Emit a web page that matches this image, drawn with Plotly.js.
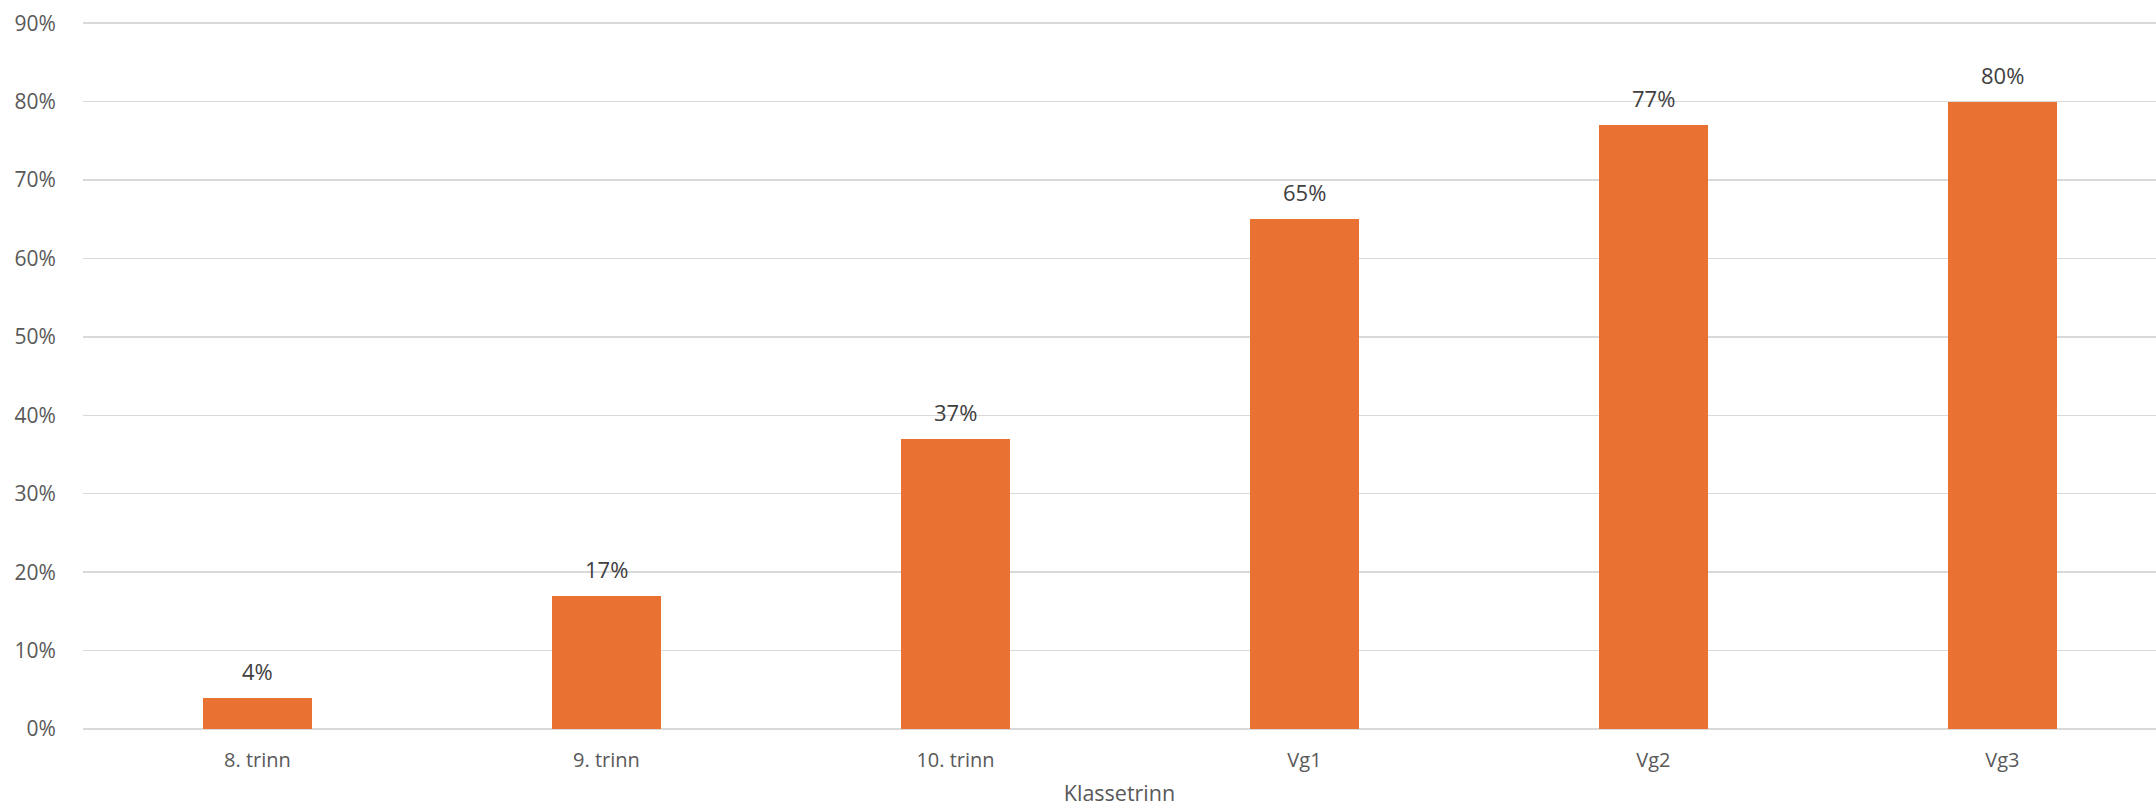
<!DOCTYPE html>
<html>
<head>
<meta charset="utf-8">
<script src="https://cdn.plot.ly/plotly-3.0.1.min.js"></script>
<style>html,body{margin:0;padding:0;background:#fff;}#chart{width:2156px;height:811px;}</style>
</head>
<body>
<div id="chart"></div>
<script>
const categories = ["8. trinn", "9. trinn", "10. trinn", "Vg1", "Vg2", "Vg3"];
const values = [4, 17, 37, 65, 77, 80];
const valueLabels = ["4%", "17%", "37%", "65%", "77%", "80%"];
const yTickVals = [0, 10, 20, 30, 40, 50, 60, 70, 80, 90];
const yTickText = ["0%", "10%", "20%", "30%", "40%", "50%", "60%", "70%", "80%", "90%"];

const font = "Open Sans, Inter, Roboto, sans-serif";

const trace = {
  type: "bar",
  x: categories.map((c, i) => i),
  y: values,
  width: 0.312,
  marker: {color: "#E97132"},
  hoverinfo: "skip"
};

const annotations = values.map((v, i) => ({
  x: i, y: v, xref: "x", yref: "y",
  text: valueLabels[i], showarrow: false,
  yanchor: "bottom", yshift: 10,
  font: {family: font, size: 22, color: "#404040"}
}));

const layout = {
  width: 2156, height: 811,
  margin: {l: 83, r: 0, t: 22, b: 82},
  paper_bgcolor: "#ffffff", plot_bgcolor: "#ffffff",
  showlegend: false,
  bargap: 0,
  xaxis: {
    range: [-0.5, 5.44],
    tickvals: categories.map((c, i) => i),
    ticktext: categories,
    showgrid: false, zeroline: false, showline: false,
    ticks: "outside", ticklen: 13, tickcolor: "rgba(0,0,0,0)",
    tickfont: {family: font, size: 20, color: "#595959"},
    title: {text: "Klassetrinn", standoff: 13, font: {family: font, size: 21.5, color: "#595959"}}
  },
  yaxis: {
    range: [0, 90.15],
    tickvals: yTickVals, ticktext: yTickText,
    showgrid: true, gridcolor: "#D9D9D9", gridwidth: 1.5,
    zeroline: true, zerolinecolor: "#D9D9D9", zerolinewidth: 1.5,
    showline: false,
    ticks: "outside", ticklen: 22, tickcolor: "rgba(0,0,0,0)",
    tickfont: {family: font, size: 21, color: "#595959"}
  },
  annotations: annotations
};

Plotly.newPlot("chart", [trace], layout, {displayModeBar: false, staticPlot: true});
</script>
</body>
</html>
